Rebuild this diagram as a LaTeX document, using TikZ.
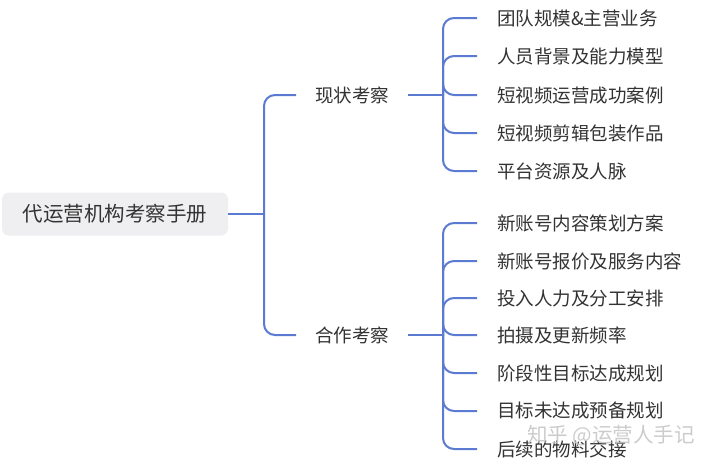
\documentclass[tikz,border=0pt]{standalone}
\usepackage{fontspec}
\setmainfont{Noto Sans CJK SC}
\definecolor{linkblue}{HTML}{5B7BD2}
\definecolor{txt}{HTML}{333333}
\definecolor{rootfill}{HTML}{EFEFF1}
\tikzset{
  rootbox/.style={fill=rootfill, rounded corners=7pt, minimum width=226pt, minimum height=43pt, inner sep=0pt, text=txt, font=\fontsize{20.5}{24}\selectfont},
  midtext/.style={inner sep=0pt, minimum width=111pt, minimum height=20pt, text=txt, font=\fontsize{18.5}{22}\selectfont},
  leaftext/.style={anchor=west, inner sep=0pt, text=txt, font=\fontsize{18.5}{22}\selectfont},
  link/.style={draw=linkblue, line width=2pt},
  curved/.style={link, rounded corners=11pt},
}
\begin{document}
\begin{tikzpicture}[x=1pt,y=-1pt]
\useasboundingbox (0,0) rectangle (720,471);
\fill[white] (0,0) rectangle (720,471);
% nodes
\node[rootbox] (root) at (115,214) {代运营机构考察手册};
\node[midtext] (m1) at (352,95) {现状考察};
\node[midtext] (m2) at (352,335) {合作考察};
\coordinate (c1) at (477,18);
\coordinate (c2) at (477,56);
\coordinate (c3) at (477,95);
\coordinate (c4) at (477,133);
\coordinate (c5) at (477,171);
\node[leaftext] (a1) at (497,18) {团队规模\&主营业务};
\node[leaftext] (a2) at (497,56) {人员背景及能力模型};
\node[leaftext] (a3) at (497,95) {短视频运营成功案例};
\node[leaftext] (a4) at (497,133) {短视频剪辑包装作品};
\node[leaftext] (a5) at (497,171) {平台资源及人脉};
\node[leaftext] (b1) at (497,223) {新账号内容策划方案};
\node[leaftext] (b2) at (497,261) {新账号报价及服务内容};
\node[leaftext] (b3) at (497,298) {投入人力及分工安排};
\node[leaftext] (b4) at (497,335) {拍摄及更新频率};
\node[leaftext] (b5) at (497,373) {阶段性目标达成规划};
\node[leaftext] (b6) at (497,411) {目标未达成预备规划};
\node[leaftext] (b7) at (497,449) {后续的物料交接};
% trunks
\coordinate (t0) at (264,214);
\coordinate (t1) at (443,95);
\coordinate (t2) at (443,335);
% root to mid
\draw[link] (root.east) -- (t0);
\draw[curved] (t0) |- ([xshift=-56pt]m1.center);
\draw[curved] (t0) |- ([xshift=-56pt]m2.center);
% mid to leaves
\draw[link] ([xshift=56pt]m1.center) -- (t1);
\draw[link] ([xshift=56pt]m2.center) -- (t2);
\foreach \n in {a1,a2,a3,a4,a5}{
  \draw[curved] (t1) |- ([xshift=-20pt]\n.west);
}
\foreach \n in {b1,b2,b3,b4,b5,b6,b7}{
  \draw[curved] (t2) |- ([xshift=-20pt]\n.west);
}
% watermark
\node[anchor=west, inner sep=0pt, text=black!22, opacity=0.9, font=\fontsize{20.5}{24}\selectfont] (wm) at (527,436) {知乎 @运营人手记};
\end{tikzpicture}
\end{document}
